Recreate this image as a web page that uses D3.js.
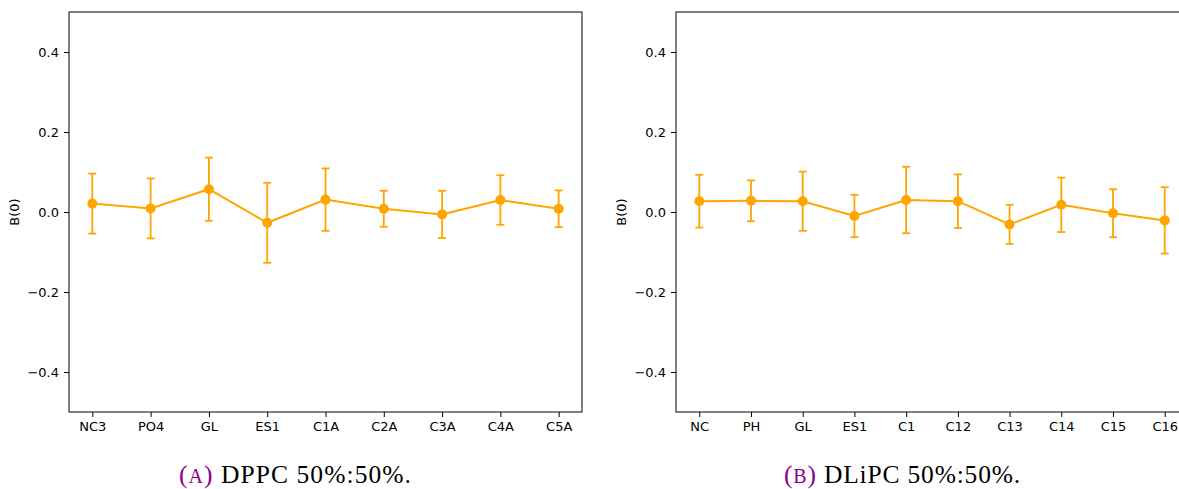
<!DOCTYPE html>
<html><head><meta charset="utf-8">
<script src="https://cdn.jsdelivr.net/npm/d3@7"></script>
<style>body{margin:0;background:#fff;} svg{display:block;}</style>
</head><body>
<script>
const catsA = ["NC3","PO4","GL","ES1","C1A","C2A","C3A","C4A","C5A"];
const valsA = [0.021,0.009,0.057,-0.027,0.031,0.008,-0.006,0.030,0.008];
const errA  = [0.075,0.075,0.079,0.100,0.078,0.045,0.059,0.062,0.046];
const catsB = ["NC","PH","GL","ES1","C1","C12","C13","C14","C15","C16"];
const valsB = [0.027,0.028,0.027,-0.010,0.030,0.027,-0.031,0.018,-0.003,-0.021];
const errB  = [0.066,0.051,0.074,0.053,0.083,0.067,0.049,0.068,0.060,0.083];
const yTicks = [-0.4,-0.2,0.0,0.2,0.4];
const captions = [{lab:"A", text:"DPPC 50%:50%."},{lab:"B", text:"DLiPC 50%:50%."}];

const W=1179,H=489;
const svg=d3.select("body").append("svg").attr("width",W).attr("height",H);
const color="#ffa500";
const fmt=v=>(v<0?"\u2212":"")+Math.abs(v).toFixed(1);

function panel(cats, vals, errs, x0, x1, cap, capX, capW){
  const top=12,bot=412;
  const n=cats.length;
  const m=0.05*(n-1);
  const x=d3.scaleLinear().domain([-m,n-1+m]).range([x0,x1]);
  const y=d3.scaleLinear().domain([-0.5,0.5]).range([bot,top]);
  const g=svg.append("g");
  const ya=g.append("g").attr("transform",`translate(${x0},0)`)
    .call(d3.axisLeft(y).tickValues(yTicks).tickFormat(fmt).tickSize(5).tickPadding(5));
  const xa=g.append("g").attr("transform",`translate(0,${bot})`)
    .call(d3.axisBottom(x).tickValues(d3.range(n)).tickFormat(i=>cats[i]).tickSize(5).tickPadding(5));
  [ya,xa].forEach(a=>{a.select(".domain").remove();
    a.selectAll("text").attr("font-family","DejaVu Sans").attr("font-size",13).attr("fill","#000");
    a.selectAll("line").attr("stroke","#000").attr("stroke-width",1);});
  g.append("rect").attr("x",x0).attr("y",top).attr("width",x1-x0).attr("height",bot-top)
    .attr("fill","none").attr("stroke","#000").attr("stroke-width",1);
  g.append("text").attr("transform",`translate(${x0-50},${y(0)}) rotate(-90)`)
    .attr("text-anchor","middle").attr("font-family","DejaVu Sans").attr("font-size",13).text("B(0)");
  const d=vals.map((v,i)=>({i,v,e:errs[i]}));
  g.selectAll(".eb").data(d).join("line").attr("x1",a=>x(a.i)).attr("x2",a=>x(a.i))
    .attr("y1",a=>y(a.v-a.e)).attr("y2",a=>y(a.v+a.e)).attr("stroke",color).attr("stroke-width",1.8);
  ["lo","hi"].forEach(k=>{
    g.selectAll(".cap"+k).data(d).join("line")
      .attr("x1",a=>x(a.i)-4).attr("x2",a=>x(a.i)+4)
      .attr("y1",a=>y(k=="lo"?a.v-a.e:a.v+a.e)).attr("y2",a=>y(k=="lo"?a.v-a.e:a.v+a.e))
      .attr("stroke",color).attr("stroke-width",1.8);
  });
  g.append("path").datum(d).attr("d",d3.line().x(a=>x(a.i)).y(a=>y(a.v)))
    .attr("fill","none").attr("stroke",color).attr("stroke-width",2);
  g.selectAll(".pt").data(d).join("circle").attr("cx",a=>x(a.i)).attr("cy",a=>y(a.v))
    .attr("r",5).attr("fill",color);
  const t=svg.append("text").attr("x",capX).attr("y",483).attr("font-family","Liberation Serif").attr("font-size",25.5).attr("fill","#000");
  t.append("tspan").attr("fill","#8b008b").text("(");
  t.append("tspan").attr("fill","#8b008b").attr("font-size",20).text(cap.lab);
  t.append("tspan").attr("fill","#8b008b").text(")");
  t.append("tspan").text(" "+cap.text);
  const len=t.node().getComputedTextLength();
  const nch=(cap.lab.length+3+cap.text.length);
  t.attr("letter-spacing",Math.max(0,(capW-len)/nch));
}
panel(catsA,valsA,errA,69,582,captions[0],179,233);
panel(catsB,valsB,errB,676,1188,captions[1],784,237);
</script>
</body></html>
